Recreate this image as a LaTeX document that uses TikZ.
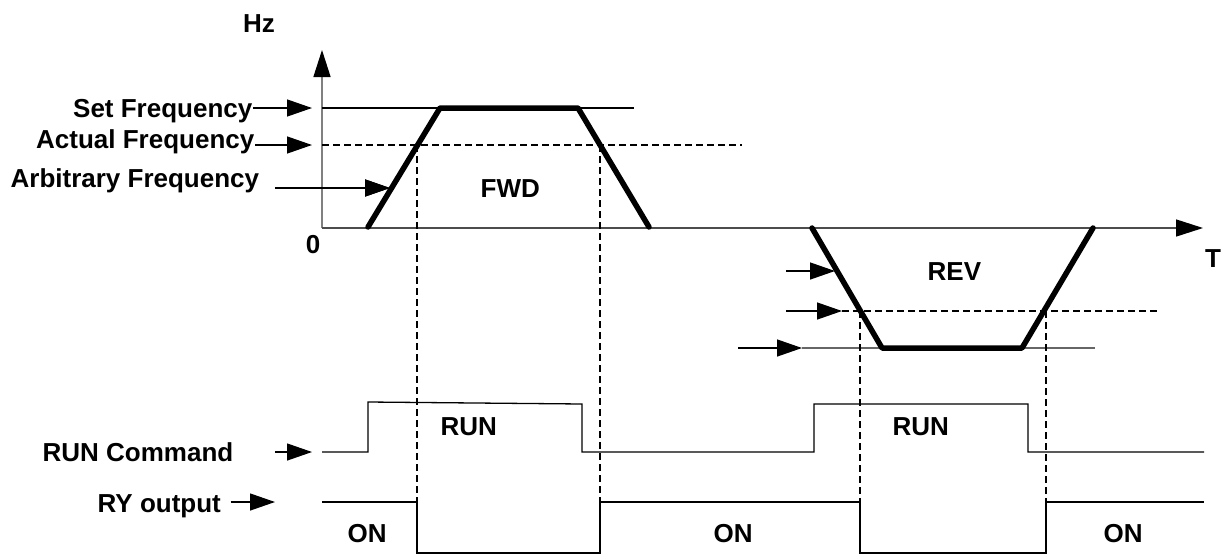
\documentclass[tikz,border=0pt]{standalone}
\usepackage{fontspec}
\setmainfont{Liberation Sans}
\usetikzlibrary{arrows.meta, positioning, calc}
\tikzset{
  every picture/.style={font=\bfseries\fontsize{26}{30}\selectfont, line width=1.3pt},
  lbl/.style={inner sep=0pt},
  ptr/.style={-{Triangle[length=25pt, width=17pt]}, line width=1.3pt},
  axis/.style={draw=#1, line width=1.5pt, -{Triangle[length=27pt, width=17pt, color=black]}},
  axis/.default=gray,
  guide/.style={dash pattern=on 7pt off 4pt, line width=1.3pt},
  level/.style={draw=#1, line width=1.3pt},
  level/.default=black,
  ramp/.style={line width=5.5pt, line cap=round, line join=round},
  signal/.style={line width=1.3pt},
}

\begin{document}
\begin{tikzpicture}[x=1pt, y=-1pt]
  \useasboundingbox (0,0) rectangle (1225,554);
  % axes
  \coordinate (origin) at (322,228);
  \coordinate (ytop) at (322,50);
  \coordinate (xend) at (1203,228);
  \draw[axis] (origin) -- (ytop);
  \draw[axis=black!70] (origin) -- (xend);
  \node[lbl, anchor=base] (hz) at (259,32) {Hz};
  \node[lbl, anchor=base] (tlbl) at (1213,267) {T};
  \node[lbl, anchor=base] (zero) at (313,253) {0};
  % frequency levels
  \coordinate (fset) at (312,108);
  \coordinate (fact) at (312,145);
  \coordinate (farb) at (390,188);
  \node[lbl, anchor=base east] (setlbl) at (253,117) {Set Frequency};
  \node[lbl, anchor=base east] (actlbl) at (255,148) {Actual Frequency};
  \node[lbl, anchor=base west] (arblbl) at (10,187) {Arbitrary Frequency};
  \draw[level] (322,108) -- (634,108);
  \draw[guide] (322,145) -- (742,145);
  \draw[ptr] (setlbl.east |- fset) -- (fset);
  \draw[ptr] (actlbl.east |- fact) -- (fact);
  \draw[ptr, shorten <=15pt] (arblbl.east |- farb) -- (farb);
  % forward run
  \coordinate (f1) at (368,227);
  \coordinate (f2) at (440,108);
  \coordinate (f3) at (578,108);
  \coordinate (f4) at (649,227);
  \draw[guide] (417,145) -- (417,502);
  \draw[guide] (600,145) -- (600,502);
  \draw[ramp] (f1) -- (f2) -- (f3) -- (f4);
  \draw[ptr] (275,188) -- (farb);
  \node[lbl, anchor=base west] (fwd) at (480,197) {FWD};
  % reverse run
  \coordinate (r1) at (812,228);
  \coordinate (r2) at (882,348);
  \coordinate (r3) at (1022,348);
  \coordinate (r4) at (1093,228);
  \coordinate (rarb) at (835,271);
  \coordinate (ract) at (842,311);
  \coordinate (rset) at (802,348);
  \draw[guide] (ract) -- (1158,311);
  \draw[level=black!60] (rset) -- (1095,348);
  \draw[guide] (860,311) -- (860,502);
  \draw[guide] (1046,311) -- (1046,502);
  \draw[ramp] (r1) -- (r2) -- (r3) -- (r4);
  \draw[ptr] (786,271) -- (rarb);
  \draw[ptr] (786,311) -- (ract);
  \draw[ptr] (738,348) -- (rset);
  \node[lbl, anchor=base west] (rev) at (927,280) {REV};
  % run command
  \coordinate (runtip) at (312,452);
  \node[lbl, anchor=base west] (runlbl) at (42,461) {RUN Command};
  \draw[ptr, shorten <=41pt] (runlbl.east |- runtip) -- (runtip);
  \draw[signal] (322,452) -- (368,452) -- (368,402) -- (582,404) -- (582,452)
    -- (814,452) -- (814,404) -- (1028,404) -- (1028,452) -- (1204,452);
  \node[lbl, anchor=base west] (run1) at (440,435) {RUN};
  \node[lbl, anchor=base west] (run2) at (892,435) {RUN};
  % relay output
  \coordinate (rytip) at (275,502);
  \node[lbl, anchor=base west] (rylbl) at (97,512) {RY output};
  \draw[ptr, shorten <=9pt] (rylbl.east |- rytip) -- (rytip);
  \draw[signal] (322,502) -- (417,502) -- (417,553) -- (600,553) -- (600,502)
    -- (860,502) -- (860,553) -- (1046,553) -- (1046,502) -- (1204,502);
  \node[lbl, anchor=base west] (on1) at (347,542) {ON};
  \node[lbl, anchor=base west] (on2) at (713,542) {ON};
  \node[lbl, anchor=base west] (on3) at (1103,542) {ON};
\end{tikzpicture}
\end{document}
